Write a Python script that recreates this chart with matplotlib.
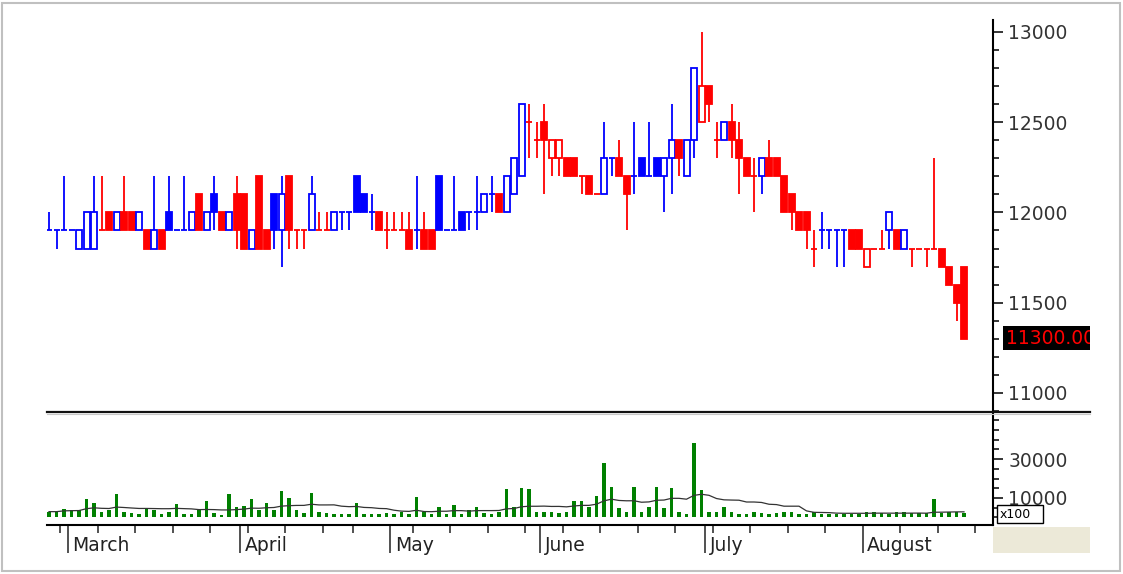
import pandas as pd
import matplotlib.pyplot as plt
from matplotlib.patches import Rectangle
from matplotlib.lines import Line2D


# daily prices
opens = [11900, 11900, 11900, 11900, 11800, 11800, 11800, 11900, 12000, 11900,
         12000, 12000, 11900, 11900, 11800, 11900, 12000, 11900, 11900, 11900,
         12100, 11900, 12100, 12000, 11900, 12100, 12100, 11800, 12200, 11900,
         12100, 11900, 12200, 11900, 11900, 11900, 11900, 11900, 11900, 12000,
         12000, 12200, 12100, 12000, 12000, 11900, 11900, 11900, 11900, 11900,
         11900, 11900, 12200, 11900, 11900, 12000, 12000, 12000, 12000, 12100,
         12100, 12000, 12100, 12200, 12500, 12400, 12500, 12300, 12300, 12300,
         12300, 12200, 12200, 12100, 12100, 12300, 12300, 12200, 12200, 12300,
         12200, 12300, 12200, 12300, 12400, 12200, 12400, 12500, 12700, 12400,
         12400, 12500, 12400, 12300, 12200, 12200, 12300, 12300, 12200, 12100,
         12000, 12000, 11800, 11900, 11900, 11900, 11900, 11900, 11900, 11700,
         11800, 11800, 11900, 11900, 11800, 11800, 11800, 11800, 11800, 11800,
         11700, 11600, 11700]
highs = [12000, 11900, 12200, 11900, 11900, 12000, 12200, 12200, 12000, 12000,
         12200, 12000, 12000, 11900, 12200, 11900, 12200, 11900, 12200, 12000,
         12100, 12000, 12200, 12000, 12000, 12200, 12100, 11900, 12200, 11900,
         12100, 12200, 12200, 11900, 11900, 12200, 12000, 12000, 12000, 12000,
         12000, 12200, 12100, 12100, 12000, 12000, 12000, 12000, 12000, 12200,
         12000, 11900, 12200, 11900, 12200, 12000, 12000, 12200, 12100, 12200,
         12100, 12200, 12300, 12600, 12600, 12500, 12600, 12400, 12400, 12300,
         12300, 12200, 12200, 12100, 12500, 12300, 12400, 12200, 12500, 12300,
         12500, 12300, 12300, 12600, 12400, 12400, 12800, 13000, 12700, 12500,
         12500, 12600, 12500, 12300, 12300, 12300, 12400, 12300, 12200, 12100,
         12000, 12000, 11900, 12000, 11900, 11900, 11900, 11900, 11900, 11800,
         11800, 11900, 12000, 11900, 11900, 11800, 11800, 11800, 12300, 11800,
         11700, 11600, 11700]
lows = [11900, 11800, 11900, 11900, 11800, 11800, 11800, 11900, 11900, 11900,
        11900, 11900, 11900, 11800, 11800, 11800, 11900, 11900, 11900, 11900,
        11900, 11900, 11900, 11900, 11900, 11800, 11800, 11800, 11800, 11800,
        11800, 11700, 11800, 11800, 11800, 11900, 11900, 11900, 11900, 11900,
        11900, 12000, 12000, 11900, 11900, 11800, 11900, 11900, 11800, 11800,
        11800, 11800, 11900, 11900, 11900, 11900, 11900, 11900, 12000, 12000,
        12000, 12000, 12100, 12200, 12300, 12300, 12100, 12200, 12200, 12200,
        12200, 12100, 12100, 12100, 12100, 12200, 12200, 11900, 12100, 12200,
        12200, 12200, 12000, 12100, 12200, 12200, 12300, 12500, 12500, 12300,
        12400, 12300, 12100, 12200, 12000, 12100, 12200, 12200, 12000, 11900,
        11900, 11800, 11700, 11800, 11800, 11700, 11700, 11800, 11800, 11700,
        11800, 11800, 11800, 11800, 11800, 11700, 11800, 11700, 11800, 11700,
        11600, 11400, 11300]
closes = [11900, 11900, 11900, 11900, 11900, 12000, 12000, 11900, 11900, 12000,
          11900, 11900, 12000, 11800, 11900, 11800, 11900, 11900, 11900, 12000,
          11900, 12000, 12000, 11900, 12000, 11900, 11800, 11900, 11800, 11800,
          11900, 12100, 11900, 11900, 11900, 12100, 11900, 11900, 12000, 12000,
          12000, 12000, 12000, 12000, 11900, 11900, 11900, 11900, 11800, 11900,
          11800, 11800, 11900, 11900, 11900, 11900, 12000, 12000, 12100, 12100,
          12000, 12200, 12300, 12600, 12500, 12400, 12400, 12400, 12400, 12200,
          12200, 12200, 12100, 12100, 12300, 12300, 12200, 12100, 12200, 12200,
          12200, 12200, 12300, 12400, 12300, 12400, 12800, 12700, 12600, 12400,
          12500, 12400, 12300, 12200, 12200, 12300, 12200, 12200, 12000, 12000,
          11900, 11900, 11800, 11900, 11900, 11900, 11900, 11800, 11800, 11800,
          11800, 11800, 12000, 11800, 11900, 11800, 11800, 11800, 11800, 11700,
          11600, 11500, 11300]
volume = [3000, 3000, 4200, 3800, 3800, 9300, 7600, 3000, 3800, 11900,
          3000, 2100, 1800, 4700, 3800, 1800, 3000, 6800, 1800, 1800,
          3800, 8500, 2100, 1200, 11900, 5600, 5900, 9300, 3800, 7600,
          3800, 13600, 10200, 3800, 2100, 12700, 3000, 2100, 1800, 1800,
          1800, 7600, 1800, 1800, 1800, 2100, 1800, 3000, 1800, 10700,
          3000, 1800, 5600, 1800, 6400, 1800, 3800, 5600, 2100, 1800,
          3000, 14400, 5600, 15300, 14400, 3000, 3000, 3000, 2100, 3000,
          8500, 8500, 5600, 11000, 27800, 15600, 4700, 3000, 15600, 3000,
          5600, 15600, 4700, 15300, 3000, 1800, 38000, 14000, 3000, 3000,
          5600, 3000, 1800, 1800, 3000, 2100, 1800, 2100, 3000, 3000,
          1800, 1800, 3000, 1800, 1800, 1800, 1800, 1800, 1800, 3000,
          3000, 2100, 1800, 3000, 3000, 2100, 2100, 2100, 9300, 2100,
          3000, 3000, 2100]

holidays = ['2016-04-18', '2016-05-02', '2016-05-03']

W, H = 1123, 574
BLUE, RED, GREEN = '#0000FF', '#FF0000', '#008000'


def fx(px):
    return px / W


def fy(py):
    return 1 - py / H


n = len(closes)
xs = list(range(n))
days = pd.bdate_range('2016-02-25', '2016-09-30')
days = days[~days.isin(pd.to_datetime(holidays))]

# blue = close up vs previous day, red = down, unchanged keeps the colour
colors = []
col = BLUE
for i in range(n):
    if i > 0:
        if closes[i] > closes[i - 1]:
            col = BLUE
        elif closes[i] < closes[i - 1]:
            col = RED
    colors.append(col)

fig = plt.figure(figsize=(W / 100, H / 100), dpi=100)
ax = fig.add_axes([fx(47), fy(411), fx(993) - fx(47), fy(20) - fy(411)])
axv = fig.add_axes([fx(47), fy(525), fx(993) - fx(47), fy(413) - fy(525)])

xmin = -2 / 7.5
xmax = xmin + 946 / 7.5

bw = 0.8
for i in xs:
    c = colors[i]
    ax.vlines(i, lows[i], highs[i], color=c, lw=1.3, zorder=1)
    o, cl = opens[i], closes[i]
    if o == cl:
        ax.hlines(cl, i - bw / 2, i + bw / 2, color=c, lw=1.3, zorder=2)
    else:
        face = c if cl < o else 'white'
        ax.add_patch(Rectangle((i - bw / 2, min(o, cl)), bw, abs(cl - o),
                               facecolor=face, edgecolor=c, lw=1.3, zorder=2))

axv.bar(xs, volume, width=0.45, color=GREEN, zorder=2)
ma = pd.Series(volume).rolling(15, min_periods=1).mean()
axv.plot(xs, ma, color='#333333', lw=0.9, zorder=3)

for a in (ax, axv):
    a.set_xlim(xmin, xmax)
    a.set_facecolor('none')
    a.spines['left'].set_visible(False)
    a.spines['top'].set_visible(False)
    a.spines['right'].set_linewidth(1.5)
    a.yaxis.tick_right()
    a.tick_params(axis='y', which='major', length=7.5, width=1.1, pad=3.5,
                  labelsize=13.5, labelcolor='#333333')
    a.tick_params(axis='y', which='minor', length=4.5, width=1.1)

ax.spines['bottom'].set_visible(False)
ax.set_xticks([])
ax.set_ylim(10900, 13066)
ax.set_yticks(range(11000, 13001, 500))
ax.set_yticks(range(10900, 13001, 100), minor=True)

axv.set_ylim(-3850, 53600)
axv.set_yticks([10000, 30000])
axv.set_yticks([0, 5000, 15000, 20000, 25000, 35000, 40000, 45000, 50000], minor=True)
axv.spines['bottom'].set_linewidth(1.5)

# month and week ticks from the trading calendar
month_pos, month_names, week_pos = [], [], []
for i in range(1, len(days)):
    if days[i].month != days[i - 1].month:
        month_pos.append(i - 0.5)
        month_names.append(days[i].strftime('%B'))
    elif days[i].isocalendar()[1] != days[i - 1].isocalendar()[1]:
        week_pos.append(i - 0.5)
month_keep = [(p, m) for p, m in zip(month_pos, month_names) if p < xmax]
axv.set_xticks([p for p, m in month_keep])
axv.set_xticklabels([])
axv.set_xticks([p for p in week_pos if p < xmax], minor=True)
axv.tick_params(axis='x', which='major', length=20, width=1.1, color='#222222')
axv.tick_params(axis='x', which='minor', length=6, width=1.1, color='#222222')
for p, m in month_keep:
    axv.text(p + 0.6, -0.18, m, transform=axv.get_xaxis_transform(),
             ha='left', va='center', fontsize=13.5, color='#222222')

# separator between panels
fig.add_artist(Line2D([fx(47), fx(1090)], [fy(411.5)] * 2, color='#111111', lw=1.6))
fig.add_artist(Line2D([fx(47), fx(1090)], [fy(413.5)] * 2, color='#C8C8C8', lw=0.8))

# last price label
axl = fig.add_axes([fx(1003), fy(350), fx(1090) - fx(1003), fy(326) - fy(350)])
axl.set_facecolor('black')
axl.set_xticks([])
axl.set_yticks([])
for s in axl.spines.values():
    s.set_visible(False)
axl.text(0.03, 0.5, f'{closes[-1]:.2f}', color=RED, fontsize=13.5,
         ha='left', va='center', transform=axl.transAxes, clip_on=True)

# x100 box and beige corner
fig.add_artist(Rectangle((fx(997), fy(523)), fx(1043) - fx(997), fy(505) - fy(523),
                         transform=fig.transFigure, facecolor='white',
                         edgecolor='black', lw=1, zorder=5))
fig.text(fx(1000), fy(514), 'x100', fontsize=9, va='center', ha='left', zorder=6)
fig.add_artist(Rectangle((fx(993), fy(553)), fx(1090) - fx(993), fy(527) - fy(553),
                         transform=fig.transFigure, facecolor='#ECE9D8',
                         edgecolor='none', zorder=1))

# outer frame
fig.add_artist(Rectangle((fx(2), fy(571)), fx(1120) - fx(2), fy(3) - fy(571),
                         transform=fig.transFigure, fill=False,
                         edgecolor='#C0C0C0', lw=1.5))

fig.savefig('out.png', dpi=100)
